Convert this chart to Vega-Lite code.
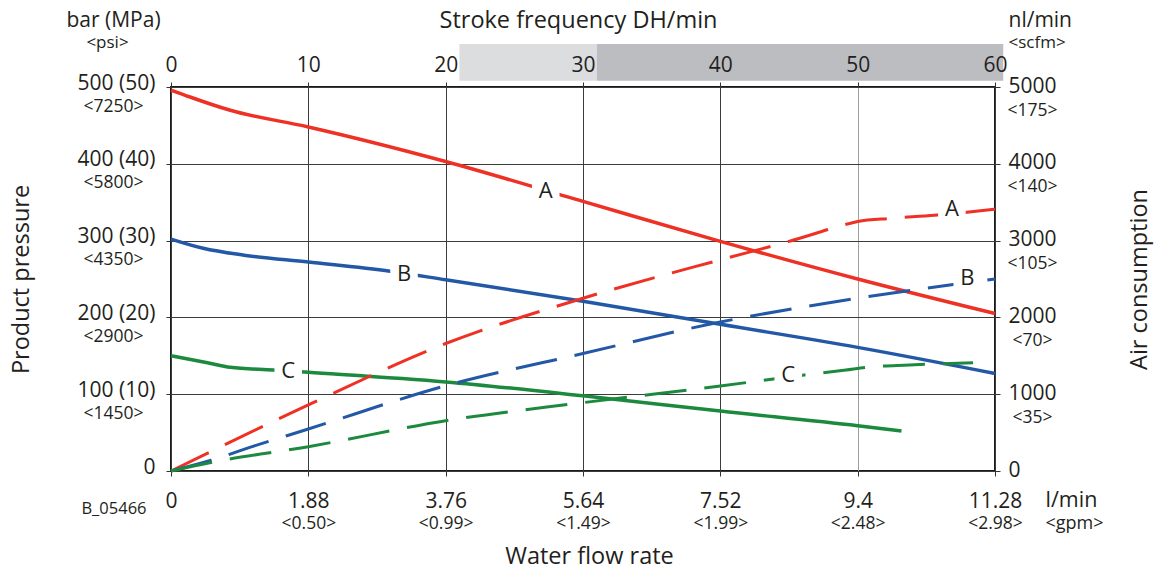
{
  "$schema": "https://vega.github.io/schema/vega-lite/v6.json",
  "width": 824,
  "height": 384,
  "autosize": "none",
  "padding": {"left": 171, "top": 87, "right": 166, "bottom": 98},
  "background": "white",
  "config": {
    "view": {"stroke": "#1a1a1a", "strokeWidth": 2},
    "font": "Open Sans",
    "axis": {
      "labelFont": "Open Sans",
      "titleFont": "Open Sans",
      "labelColor": "#231f20",
      "titleColor": "#231f20",
      "titleFontWeight": "normal",
      "domain": false,
      "tickColor": "#333333",
      "labelOverlap": false,
      "labelBound": false,
      "labelFlush": false
    }
  },
  "datasets": {
    "bands": [
      {"from": 21, "to": 31, "shade": "light"},
      {"from": 31, "to": 60.6, "shade": "dark"}
    ],
    "solid": [
      {"curve": "A", "flow": 0, "pressure": 496},
      {"curve": "A", "flow": 0.26, "pressure": 487},
      {"curve": "A", "flow": 0.8, "pressure": 470},
      {"curve": "A", "flow": 1.88, "pressure": 448},
      {"curve": "A", "flow": 3.76, "pressure": 403},
      {"curve": "A", "flow": 5.64, "pressure": 351},
      {"curve": "A", "flow": 7.52, "pressure": 299},
      {"curve": "A", "flow": 9.4, "pressure": 250},
      {"curve": "A", "flow": 11.28, "pressure": 205},
      {"curve": "B", "flow": 0, "pressure": 302},
      {"curve": "B", "flow": 0.44, "pressure": 290},
      {"curve": "B", "flow": 1.0, "pressure": 281},
      {"curve": "B", "flow": 1.88, "pressure": 272},
      {"curve": "B", "flow": 3.0, "pressure": 260},
      {"curve": "B", "flow": 3.76, "pressure": 249},
      {"curve": "B", "flow": 5.64, "pressure": 221},
      {"curve": "B", "flow": 7.52, "pressure": 191},
      {"curve": "B", "flow": 9.4, "pressure": 161},
      {"curve": "B", "flow": 11.28, "pressure": 127},
      {"curve": "C", "flow": 0, "pressure": 150},
      {"curve": "C", "flow": 0.5, "pressure": 141},
      {"curve": "C", "flow": 0.81, "pressure": 135},
      {"curve": "C", "flow": 1.4, "pressure": 131.5},
      {"curve": "C", "flow": 1.88, "pressure": 128.5},
      {"curve": "C", "flow": 3.76, "pressure": 116},
      {"curve": "C", "flow": 5.64, "pressure": 98},
      {"curve": "C", "flow": 7.52, "pressure": 78},
      {"curve": "C", "flow": 9.4, "pressure": 59},
      {"curve": "C", "flow": 10.0, "pressure": 52}
    ],
    "dashed": [
      {"curve": "A", "flow": 0, "air": 0},
      {"curve": "A", "flow": 1.88, "air": 860},
      {"curve": "A", "flow": 3.76, "air": 1660},
      {"curve": "A", "flow": 5.64, "air": 2250},
      {"curve": "A", "flow": 7.52, "air": 2750},
      {"curve": "A", "flow": 8.46, "air": 2990},
      {"curve": "A", "flow": 9.2, "air": 3200},
      {"curve": "A", "flow": 9.4, "air": 3250},
      {"curve": "A", "flow": 9.86, "air": 3290},
      {"curve": "A", "flow": 10.45, "air": 3330},
      {"curve": "A", "flow": 11.28, "air": 3410},
      {"curve": "B", "flow": 0, "air": 0},
      {"curve": "B", "flow": 0.55, "air": 140},
      {"curve": "B", "flow": 1.11, "air": 317},
      {"curve": "B", "flow": 1.88, "air": 547},
      {"curve": "B", "flow": 3.76, "air": 1110},
      {"curve": "B", "flow": 5.64, "air": 1530},
      {"curve": "B", "flow": 7.52, "air": 1940},
      {"curve": "B", "flow": 9.4, "air": 2250},
      {"curve": "B", "flow": 11.28, "air": 2500},
      {"curve": "C", "flow": 0, "air": 0},
      {"curve": "C", "flow": 0.53, "air": 108},
      {"curve": "C", "flow": 1.88, "air": 317},
      {"curve": "C", "flow": 3.76, "air": 655},
      {"curve": "C", "flow": 5.64, "air": 890},
      {"curve": "C", "flow": 7.52, "air": 1107},
      {"curve": "C", "flow": 8.67, "air": 1250},
      {"curve": "C", "flow": 9.24, "air": 1315},
      {"curve": "C", "flow": 9.52, "air": 1350},
      {"curve": "C", "flow": 10.11, "air": 1380},
      {"curve": "C", "flow": 10.98, "air": 1410}
    ],
    "solidLabels": [
      {"curve": "A", "flow": 5.13, "pressure": 364.6},
      {"curve": "B", "flow": 3.19, "pressure": 256},
      {"curve": "C", "flow": 1.605, "pressure": 130}
    ],
    "dashedLabels": [
      {"curve": "A", "flow": 10.69, "air": 3407},
      {"curve": "B", "flow": 10.9, "air": 2509},
      {"curve": "C", "flow": 8.45, "air": 1250}
    ]
  },
  "layer": [
    {
      "data": {"name": "bands"},
      "mark": {"type": "rect"},
      "encoding": {
        "x": {
          "field": "from", "type": "quantitative",
          "scale": {"domain": [0, 60], "nice": false},
          "axis": {
            "orient": "top", "values": [0, 10, 20, 30, 40, 50, 60],
            "labelFontSize": 21, "labelPadding": 11, "labelBaseline": "alphabetic", "labelAlign": "center",
            "ticks": true, "tickSize": 5, "grid": false, "zindex": 1,
            "title": "Stroke frequency DH/min", "titleFontSize": 23.5,
            "titleX": 407, "titleY": -60, "titleAlign": "center", "titleBaseline": "alphabetic"
          }
        },
        "x2": {"field": "to"},
        "y": {
          "datum": 508, "type": "quantitative",
          "scale": {"domain": [0, 500], "nice": false},
          "axis": {
            "orient": "left", "labels": false, "ticks": false, "grid": false,
            "title": "<psi>", "titleFontSize": 17, "titleAngle": 0,
            "titleX": -64, "titleY": -40, "titleAlign": "center", "titleBaseline": "alphabetic"
          }
        },
        "y2": {"datum": 556},
        "color": {
          "field": "shade", "type": "nominal",
          "scale": {"domain": ["light", "dark"], "range": ["#dcdddf", "#bcbdc0"]},
          "legend": null
        }
      }
    },
    {
      "data": {"name": "solid"},
      "mark": {"type": "line", "strokeWidth": 3.5, "interpolate": "monotone"},
      "encoding": {
        "x": {
          "field": "flow", "type": "quantitative",
          "scale": {"domain": [0, 11.28], "nice": false},
          "axis": {
            "orient": "bottom", "values": [0, 1.88, 3.76, 5.64, 7.52, 9.4, 11.28],
            "labelExpr": "'' + datum.value",
            "labelFontSize": 21, "labelPadding": 31, "labelBaseline": "alphabetic",
            "tickSize": 5, "grid": true,
            "gridColor": {"condition": {"test": "datum.value === 9.4", "value": "#a0a0a0"}, "value": "#3c3c3c"},
            "gridWidth": 1,
            "title": "Water flow rate", "titleFontSize": 23.5,
            "titleX": 418, "titleY": 92, "titleAlign": "center", "titleBaseline": "alphabetic"
          }
        },
        "y": {
          "field": "pressure", "type": "quantitative",
          "scale": {"domain": [0, 500], "nice": false},
          "axis": {
            "orient": "left", "values": [0, 100, 200, 300, 400, 500],
            "labelExpr": "datum.value === 0 ? '0' : datum.value + ' (' + datum.value / 10 + ')'",
            "labelFontSize": 21, "labelPadding": 11, "labelAlign": "right",
            "labelBaseline": "alphabetic", "labelOffset": 2,
            "tickSize": 5, "grid": true, "gridColor": "#3c3c3c", "gridWidth": 1,
            "title": "Product pressure", "titleFontSize": 23.5, "titleAngle": 270,
            "titleX": -143, "titleY": 192, "titleAlign": "center", "titleBaseline": "alphabetic"
          }
        },
        "color": {
          "field": "curve", "type": "nominal",
          "scale": {"domain": ["A", "B", "C"], "range": ["#ee3124", "#2358a6", "#1c8a3e"]},
          "legend": null
        }
      }
    },
    {
      "data": {"name": "dashed"},
      "mark": {"type": "line", "strokeWidth": 3, "strokeDash": [42, 18], "interpolate": "monotone"},
      "encoding": {
        "x": {
          "field": "flow", "type": "quantitative",
          "scale": {"domain": [0, 11.28], "nice": false},
          "axis": {
            "orient": "bottom", "labels": false, "ticks": false, "grid": false,
            "title": "l/min", "titleFontSize": 21.5,
            "titleX": 874, "titleY": 35, "titleAlign": "left", "titleBaseline": "alphabetic"
          }
        },
        "y": {
          "field": "air", "type": "quantitative",
          "scale": {"domain": [0, 5000], "nice": false},
          "axis": {
            "orient": "right", "values": [0, 1000, 2000, 3000, 4000, 5000],
            "labelExpr": "'' + datum.value",
            "labelFontSize": 21, "labelPadding": 8, "labelAlign": "left",
            "labelBaseline": "alphabetic", "labelOffset": 5,
            "tickSize": 5, "grid": false,
            "title": "Air consumption", "titleFontSize": 23.5, "titleAngle": 270,
            "titleX": 151, "titleY": 192, "titleAlign": "center", "titleBaseline": "alphabetic"
          }
        },
        "color": {
          "field": "curve", "type": "nominal",
          "scale": {"domain": ["A", "B", "C"], "range": ["#ee3124", "#2358a6", "#1c8a3e"]},
          "legend": null
        }
      }
    },
    {
      "data": {"name": "solidLabels"},
      "mark": {"type": "point", "shape": "square", "filled": true, "size": 760, "color": "white", "opacity": 1},
      "encoding": {
        "x": {
          "field": "flow", "type": "quantitative",
          "scale": {"domain": [0, 11.28], "nice": false},
          "axis": {
            "orient": "bottom", "values": [1.88, 3.76, 5.64, 7.52, 9.4, 11.28],
            "labelExpr": "'<' + format(datum.value / 3.7854, '.2f') + '>'",
            "labelFontSize": 17.5, "ticks": false, "tickSize": 0, "labelPadding": 57,
            "labelBaseline": "alphabetic", "grid": false,
            "title": "<gpm>", "titleFontSize": 18,
            "titleX": 874, "titleY": 57, "titleAlign": "left", "titleBaseline": "alphabetic"
          }
        },
        "y": {
          "field": "pressure", "type": "quantitative",
          "scale": {"domain": [0, 500], "nice": false},
          "axis": {
            "orient": "left", "values": [100, 200, 300, 400, 500],
            "labelExpr": "'<' + datum.value * 14.5 + '>'",
            "labelFontSize": 17.5, "ticks": false, "tickSize": 0, "labelPadding": 58,
            "labelAlign": "center", "labelBaseline": "alphabetic", "labelOffset": 24, "grid": false,
            "title": "bar (MPa)", "titleFontSize": 21, "titleAngle": 0,
            "titleX": -58, "titleY": -61, "titleAlign": "center", "titleBaseline": "alphabetic"
          }
        }
      }
    },
    {
      "data": {"name": "dashedLabels"},
      "mark": {"type": "point", "shape": "square", "filled": true, "size": 760, "color": "white", "opacity": 1},
      "encoding": {
        "x": {
          "field": "flow", "type": "quantitative",
          "scale": {"domain": [0, 11.28], "nice": false},
          "axis": {
            "orient": "bottom", "labels": false, "ticks": false, "grid": false,
            "title": "B_05466", "titleFontSize": 16.5,
            "titleX": -25, "titleY": 42, "titleAlign": "right", "titleBaseline": "alphabetic"
          }
        },
        "y": {
          "field": "air", "type": "quantitative",
          "scale": {"domain": [0, 5000], "nice": false},
          "axis": {
            "orient": "right", "values": [1000, 2000, 3000, 4000, 5000],
            "labelExpr": "'<' + (datum.value / 1000 * 35) + '>'",
            "labelFontSize": 17.5, "ticks": false, "tickSize": 0, "labelPadding": 37,
            "labelAlign": "center", "labelBaseline": "alphabetic", "labelOffset": 28, "grid": false,
            "title": "nl/min", "titleFontSize": 21, "titleAngle": 0,
            "titleX": 13, "titleY": -61, "titleAlign": "left", "titleBaseline": "alphabetic"
          }
        }
      }
    },
    {
      "data": {"name": "solidLabels"},
      "mark": {"type": "text", "fontSize": 22, "color": "#231f20", "align": "center", "baseline": "middle", "font": "Open Sans"},
      "encoding": {
        "x": {
          "field": "flow", "type": "quantitative",
          "scale": {"domain": [0, 11.28], "nice": false},
          "axis": null
        },
        "y": {
          "field": "pressure", "type": "quantitative",
          "scale": {"domain": [0, 500], "nice": false},
          "axis": {
            "orient": "right", "labels": false, "ticks": false, "grid": false,
            "title": "<scfm>", "titleFontSize": 17, "titleAngle": 0,
            "titleX": 13, "titleY": -40, "titleAlign": "left", "titleBaseline": "alphabetic"
          }
        },
        "text": {"field": "curve", "type": "nominal"}
      }
    },
    {
      "data": {"name": "dashedLabels"},
      "mark": {"type": "text", "fontSize": 22, "color": "#231f20", "align": "center", "baseline": "middle", "font": "Open Sans"},
      "encoding": {
        "x": {
          "field": "flow", "type": "quantitative",
          "scale": {"domain": [0, 11.28], "nice": false},
          "axis": null
        },
        "y": {
          "field": "air", "type": "quantitative",
          "scale": {"domain": [0, 5000], "nice": false},
          "axis": null
        },
        "text": {"field": "curve", "type": "nominal"}
      }
    }
  ],
  "resolve": {
    "scale": {"x": "independent", "y": "independent", "color": "independent"},
    "axis": {"x": "independent", "y": "independent"}
  }
}
